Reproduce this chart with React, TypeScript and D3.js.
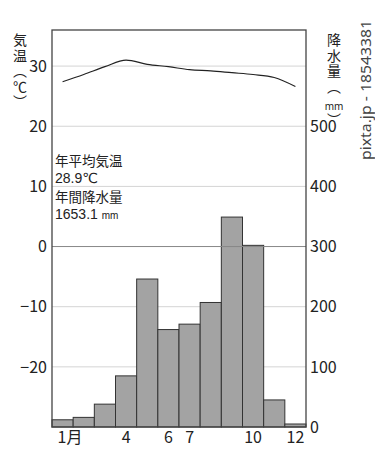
import React from "react";
import * as d3 from "d3";

const months = ["1", "2", "3", "4", "5", "6", "7", "8", "9", "10", "11", "12"];
const monthLabels = ["1月", "", "", "4", "", "6", "7", "", "", "10", "", "12"];
const temperature = [27.4, 28.6, 29.9, 31.0, 30.3, 29.9, 29.4, 29.2, 28.9, 28.6, 28.1, 26.6];
const precipitation = [12, 16, 38, 85, 246, 162, 171, 207, 349, 302, 45, 5];
const tempTicks = [30, 20, 10, 0, -10, -20];
const precTicks = [500, 400, 300, 200, 100, 0];
const gridTemps = [30, 20, 10, -10, -20];

const W = 375;
const H = 450;
const left = 52;
const right = 306;
const top = 30;
const bottom = 427;
const FONT = "'Noto Sans CJK JP', 'Noto Sans', sans-serif";
const NUMFONT = "'Liberation Sans', 'DejaVu Sans', sans-serif";

export default function App() {
  const x = d3.scaleBand<string>().domain(months).range([left, right]).padding(0);
  const yT = d3.scaleLinear().domain([-30, 36]).range([bottom, top]);
  const yP = d3.scaleLinear().domain([0, 660]).range([bottom, top]);

  const line = d3
    .line<number>()
    .x((_, i) => (x(months[i]) as number) + x.bandwidth() / 2)
    .y((d) => yT(d))
    .curve(d3.curveMonotoneX);

  const vertical: React.CSSProperties = { writingMode: "vertical-rl" as any, letterSpacing: "1.5px" };

  return (
    <svg
      width={W}
      height={H}
      style={{ position: "absolute", left: 0, top: 0, background: "#fff" }}
      fontFamily={FONT}
    >
      <rect x={0} y={0} width={W} height={H} fill="#fff" />
      {/* grid */}
      {gridTemps.map((t) => (
        <line key={t} x1={left} x2={right} y1={yT(t)} y2={yT(t)} stroke="#d4d4d4" strokeWidth={1} />
      ))}
      {/* bars */}
      {precipitation.map((p, i) => (
        <rect
          key={i}
          x={x(months[i]) as number}
          y={yP(p)}
          width={x.bandwidth()}
          height={bottom - yP(p)}
          fill="#a3a3a3"
          stroke="#333"
          strokeWidth={1}
        />
      ))}
      {/* zero line */}
      <line x1={left} x2={right} y1={yT(0)} y2={yT(0)} stroke="#888" strokeWidth={1} />
      {/* temperature line */}
      <path d={line(temperature) || ""} fill="none" stroke="#222" strokeWidth={1.2} />
      {/* frame */}
      <rect x={left} y={top} width={right - left} height={bottom - top} fill="none" stroke="#444" strokeWidth={1.3} />
      {/* left ticks */}
      {tempTicks.map((t) => (
        <text key={t} x={47} y={yT(t)} dy="0.36em" textAnchor="end" fontSize={16} fill="#222">
          {t < 0 ? "−" + Math.abs(t) : t}
        </text>
      ))}
      {/* right ticks */}
      {precTicks.map((p) => (
        <text key={p} x={310} y={yP(p)} dy="0.36em" textAnchor="start" fontSize={16} fill="#222">
          {p}
        </text>
      ))}
      {/* month labels */}
      {monthLabels.map((m, i) =>
        m ? (
          <text
            key={i}
            x={(x(months[i]) as number) + x.bandwidth() / 2}
            y={443}
            textAnchor={m.endsWith("月") ? "start" : "middle"}
            dx={m.endsWith("月") ? -5 : 0}
            fontSize={16}
            fill="#222"
          >
            {m}
          </text>
        ) : null
      )}
      {/* left axis title */}
      <text x={20} y={33} fontSize={14} fill="#222" style={vertical}>
        気温（℃）
      </text>
      {/* right axis title */}
      <text x={334} y={33} fontSize={14} fill="#222" style={vertical}>
        降水量（
      </text>
      <text x={334} y={110} fontSize={10} fill="#222" textAnchor="middle" fontFamily="'Noto Sans', sans-serif">
        mm
      </text>
      <text x={334} y={113} fontSize={14} fill="#222" style={vertical}>
        ）
      </text>
      {/* annotation */}
      <text x={55} y={166} fontSize={13.5} fill="#222">年平均気温</text>
      <text x={55} y={183} fontSize={14} fill="#222" fontFamily={NUMFONT}>28.9℃</text>
      <text x={55} y={202} fontSize={13.5} fill="#222">年間降水量</text>
      <text x={55} y={219} fontSize={14} fill="#222" fontFamily={NUMFONT}>
        1653.1 <tspan fontSize={10}>mm</tspan>
      </text>
      {/* watermark id */}
      <text
        transform="translate(371,160) rotate(-90)"
        fontSize={13.5}
        fill="#444"
        fontFamily="'Noto Sans', sans-serif"
        textLength={140}
        lengthAdjust="spacingAndGlyphs"
      >
        pixta.jp - 18543381
      </text>
    </svg>
  );
}
